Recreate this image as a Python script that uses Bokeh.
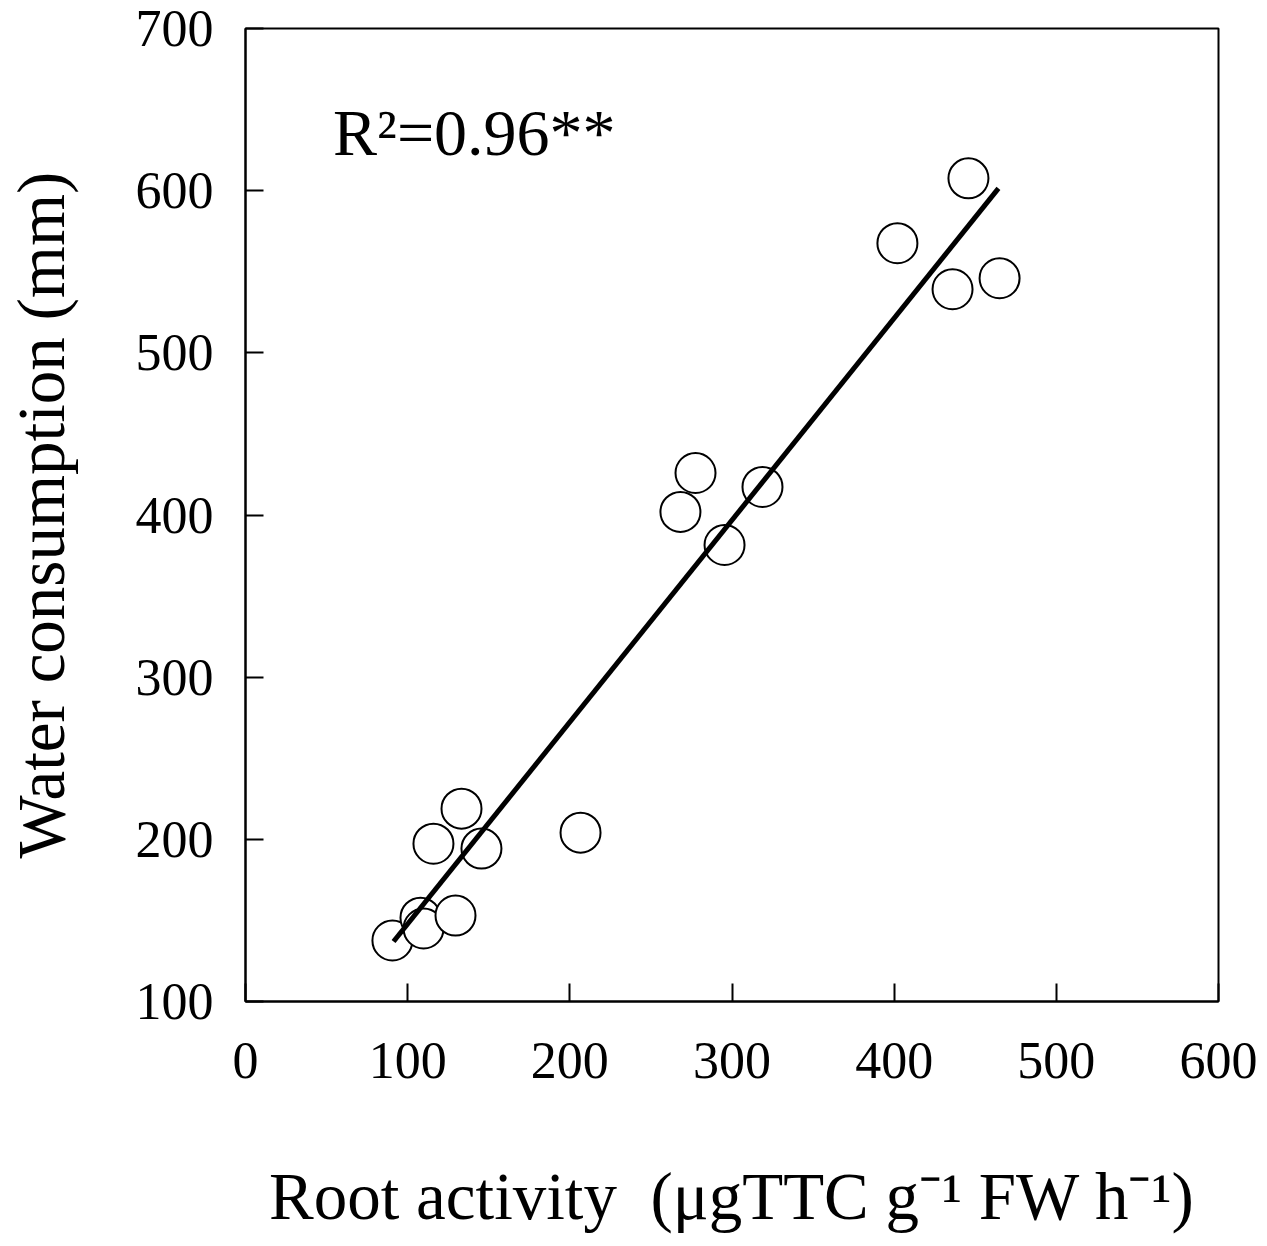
from bokeh.plotting import figure
from bokeh.models import Range1d, FixedTicker, Label
from bokeh.embed import file_html
from bokeh.resources import INLINE

# ---- data ----
root_activity = [90.6, 107.9, 109.8, 115.9, 129.5, 133.2, 145.5, 206.6,
                 268.2, 277.5, 295.4, 318.8, 402.0, 436.0, 445.8, 465.0]
water_consumption = [137.6, 151.7, 145.0, 197.3, 153.0, 218.9, 194.3, 204.1,
                     401.9, 425.9, 381.5, 417.3, 567.6, 539.2, 607.6, 546.0]
fit_x = [91.3, 464.3]
fit_y = [137.0, 601.4]
x_ticks = [0, 100, 200, 300, 400, 500, 600]
y_ticks = [100, 200, 300, 400, 500, 600, 700]
r2_text = "R²=0.96**"
r2_pos = (54, 636)
x_label = "Root activity\u00a0\u00a0(μgTTC g⁻¹ FW h⁻¹)"
y_label = "Water consumption (mm)"

FONT = "Liberation Serif"

p = figure(width=1259, height=1238, output_backend="svg", toolbar_location=None,
           x_range=Range1d(0, 600), y_range=Range1d(100, 700),
           min_border_left=245, min_border_right=41,
           min_border_top=28, min_border_bottom=237)

p.background_fill_color = "white"
p.border_fill_color = "white"
p.outline_line_color = "black"
p.outline_line_width = 2
p.xgrid.visible = False
p.ygrid.visible = False

for ax, ticks in ((p.xaxis[0], x_ticks), (p.yaxis[0], y_ticks)):
    ax.ticker = FixedTicker(ticks=ticks)
    ax.minor_tick_line_color = None
    ax.major_tick_in = 18
    ax.major_tick_out = 0
    ax.major_tick_line_width = 2
    ax.major_tick_line_color = "black"
    ax.axis_line_width = 2
    ax.axis_line_color = "black"
    ax.major_label_text_font = FONT
    ax.major_label_text_font_size = "52px"
    ax.major_label_text_color = "black"
    ax.axis_label_text_font = FONT
    ax.axis_label_text_font_size = "67px"
    ax.axis_label_text_font_style = "normal"
    ax.axis_label_text_color = "black"

p.xaxis.axis_label = x_label
p.yaxis.axis_label = y_label
p.xaxis.major_label_standoff = 41
p.yaxis.major_label_standoff = 32
p.xaxis.axis_label_standoff = 78
p.yaxis.axis_label_standoff = 55

p.scatter(root_activity, water_consumption, marker="circle", size=40,
          fill_color="white", line_color="black", line_width=2)
p.line(fit_x, fit_y, line_color="black", line_width=5)

p.add_layout(Label(x=r2_pos[0], y=r2_pos[1], text=r2_text,
                   text_font=FONT, text_font_size="66px", text_color="black",
                   text_baseline="alphabetic"))

open("out.html", "w").write(file_html(p, INLINE))
